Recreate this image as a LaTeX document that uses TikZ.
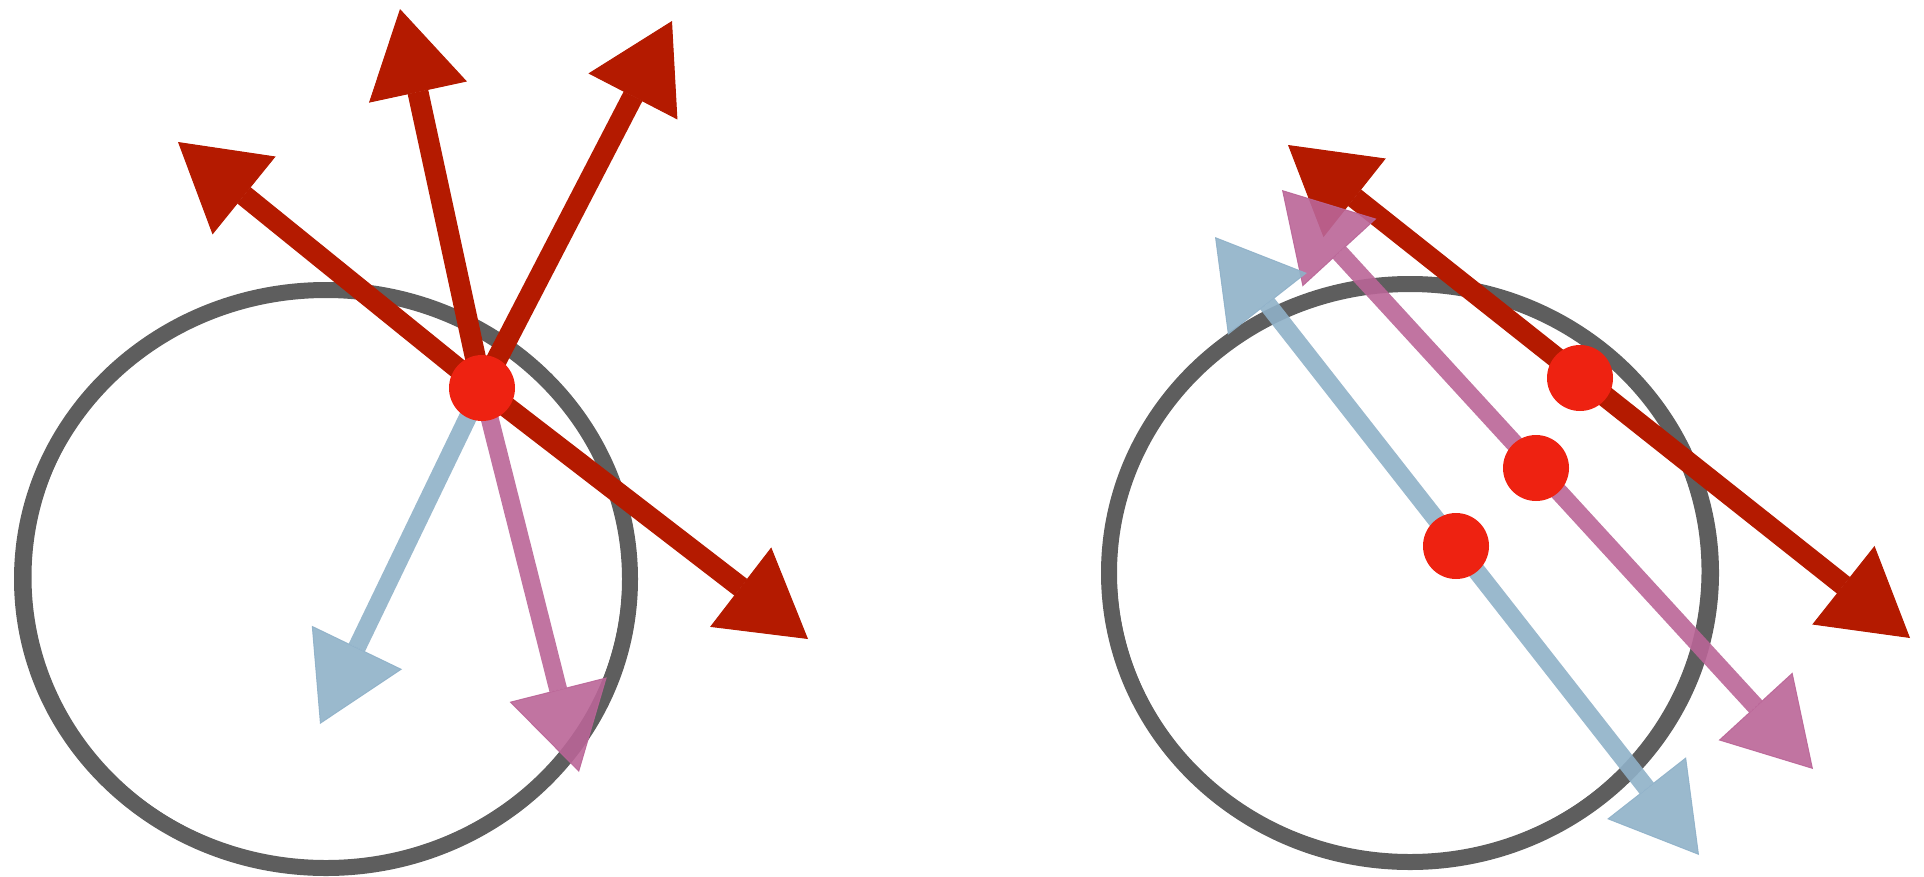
\documentclass[tikz,border=0pt]{standalone}
\usetikzlibrary{arrows.meta}

\definecolor{vecred}{HTML}{B41A00}
\definecolor{dotred}{HTML}{EE2211}
\definecolor{vecblue}{HTML}{8FB1C8}
\definecolor{vecpink}{HTML}{BA6597}
\definecolor{ringgray}{HTML}{5E5E5E}

\tikzset{
  ring/.style={draw=ringgray, line width=16pt},
  ringthin/.style={draw=ringgray, line width=3pt},
  redvec/.style={draw=vecred, line width=21pt},
  bluevec/.style={draw=vecblue, line width=18pt, opacity=0.9},
  pinkvec/.style={draw=vecpink, line width=18pt, opacity=0.9},
  spot/.style={circle, fill=dotred, minimum size=66pt, inner sep=0pt}
}

\begin{document}
\begin{tikzpicture}[x=1pt, y=-1pt, >={Triangle[length=85pt,width=100pt,line width=1pt]}]
    \useasboundingbox (0,0) rectangle (1924,876);

    % left: one point, many directions
    \draw[ring] (326,579) ellipse [x radius=304, y radius=289];
    \draw[ringthin] (327,577) ellipse [x radius=297, y radius=286];

    \coordinate (P) at (482,388);
    \coordinate (upleft) at (178,142);
    \coordinate (up) at (400,9);
    \coordinate (upright) at (672,21);
    \coordinate (downright) at (808,639);
    \coordinate (downblue) at (320,724);
    \coordinate (downpink) at (579,772);

    \draw[redvec, ->] (P) -- (upleft);
    \draw[redvec, ->] (P) -- (up);
    \draw[redvec, ->] (P) -- (upright);
    \draw[redvec, ->] (P) -- (downright);
    \draw[bluevec, ->] (P) -- (downblue);
    \draw[pinkvec, ->] (P) -- (downpink);
    \node[spot] (Pdot) at (P) {};

    % right: parallel lines, three points
    \draw[ring] (1410,573) ellipse [x radius=301, y radius=289];
    \draw[ringthin] (1409,571) ellipse [x radius=294, y radius=286];

    \coordinate (redA) at (1288,145);
    \coordinate (redB) at (1910,638);
    \coordinate (pinkA) at (1282,190);
    \coordinate (pinkB) at (1813,769);
    \coordinate (blueA) at (1215,237);
    \coordinate (blueB) at (1699,855);

    \draw[redvec, <->] (redA) -- (redB);
    \draw[pinkvec, <->] (pinkA) -- (pinkB);
    \draw[bluevec, <->] (blueA) -- (blueB);

    \node[spot] (Rdot) at (1580,378) {};
    \node[spot] (Pkdot) at (1536,468) {};
    \node[spot] (Bdot) at (1456,546) {};
\end{tikzpicture}
\end{document}
